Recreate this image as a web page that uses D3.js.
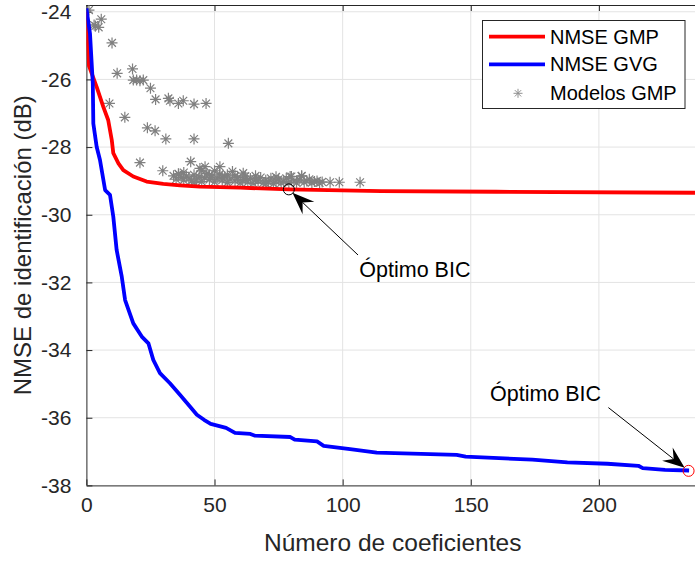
<!DOCTYPE html>
<html>
<head>
<meta charset="utf-8">
<script src="https://cdn.jsdelivr.net/npm/d3@7"></script>
<style>
  body { margin: 0; background: #fff; }
  svg text { font-family: "Liberation Sans", Arial, Helvetica, sans-serif; fill: #262626; }
</style>
</head>
<body>
<svg id="chart" width="695" height="561"></svg>
<script>
// Axis ticks
const xTicks = [0, 50, 100, 150, 200];
const yTicks = [-38, -36, -34, -32, -30, -28, -26, -24];

// NMSE GMP (best model per number of coefficients)
const gmpX = [0, 1, 4, 6.6, 8.5, 9.9, 10.5, 12.5, 14.4, 18.3, 23.5, 30, 36.5, 44.3, 60, 79, 115, 160, 237.5];
const gmpY = [-24.0, -25.6, -26.22, -26.81, -27.2, -27.79, -28.18, -28.48, -28.68, -28.87, -29.02, -29.09, -29.13, -29.17, -29.2, -29.25, -29.3, -29.32, -29.35];

// NMSE GVG
const gvgX = [0, 1.4, 2.5, 2.7, 4.0, 5.3, 7.3, 9.2, 10.5, 11.8, 13.8, 15.1, 18.3, 21.6, 24.2, 26.1, 28.7, 32.6, 36.5, 40.4, 43.1, 45.9, 48.5, 54.5, 58, 64, 65.8, 79.6, 81.3, 90, 92.6, 102.9, 113.3, 144.5, 148, 174, 187.7, 203.3, 215.4, 217.1, 225.8, 235.2];
const gvgY = [-23.9, -24.64, -26.12, -27.3, -27.99, -28.38, -29.27, -29.41, -30.06, -31.04, -31.83, -32.52, -33.21, -33.6, -33.8, -34.29, -34.68, -34.98, -35.32, -35.67, -35.91, -36.06, -36.18, -36.3, -36.45, -36.48, -36.53, -36.57, -36.65, -36.7, -36.83, -36.93, -37.03, -37.1, -37.15, -37.24, -37.32, -37.36, -37.42, -37.49, -37.54, -37.56];

// Evaluated GMP models (coefficients, NMSE)
const modelX = [1, 3, 3.5, 4.8, 5.8, 10, 12, 18, 18.3, 19.6, 20.9, 22.2, 25, 27, 32, 32.6, 35.9, 37.8, 42, 46.7, 9, 15, 23.8, 26.8, 31, 42, 55.4,
  20.9, 29.8, 40.7, 35.9, 44.3, 46.3, 52.1, 61.2,
  34, 35, 36, 37, 38, 39, 40, 41, 42, 43, 44, 45, 46, 47, 48, 49, 50, 51, 52, 53, 54, 55, 56, 57, 58, 59, 60, 61, 62, 63, 64, 65, 66, 67, 68, 69, 70, 71, 72, 73, 74, 75, 76, 77, 78, 79, 80, 81, 82, 83, 84, 85, 86, 87, 88, 89, 90, 91, 92,
  38, 42, 45, 48, 50, 53, 55, 58, 62, 66, 70, 74, 79.5, 84, 95.1, 98.7, 106.8];
const modelY = [-23.95, -24.39, -24.42, -24.46, -24.22, -24.92, -25.82, -25.69, -26.02, -26.02, -26.04, -26.02, -26.26, -26.59, -26.56, -26.63, -26.71, -26.63, -26.73, -26.71, -26.71, -27.12, -27.43, -27.52, -27.76, -27.76, -27.89,
  -28.46, -28.70, -28.43, -28.79, -28.63, -28.58, -28.58, -28.77,
  -28.85, -28.95, -28.8, -28.9, -28.98, -28.86, -28.92, -29.0, -28.82, -28.95, -28.88, -29.02, -28.9, -28.78, -28.96, -28.85, -29.03, -28.92, -28.8, -28.98, -28.88, -29.05, -28.95, -28.72, -29.0, -28.9, -29.06, -28.98, -28.86, -29.04, -28.93, -29.07, -28.97, -29.0, -28.9, -29.06, -28.98, -29.03, -28.92, -29.08, -29.0, -28.95, -29.06, -29.02, -28.92, -29.05, -28.87, -29.0, -29.06, -28.97, -28.86, -29.04, -29.0, -28.95, -29.05, -29.02, -29.0, -29.06, -29.03,
  -28.75, -29.05, -28.7, -28.82, -28.7, -28.9, -28.82, -28.85, -28.96, -28.85, -29.08, -28.88, -28.87, -28.85, -29.04, -29.04, -29.04];

// BIC optima and their annotations
const bicLabels = ["Óptimo BIC", "Óptimo BIC"];
const bicX = [79, 235];
const bicY = [-29.25, -37.57];
const bicTailX = [106, 203.7];
const bicTailY = [-31.19, -35.7];
const bicTextX = [106.5, 157.5];
const bicTextY = [-31.83, -35.52];

const legendLabels = ["NMSE GMP", "NMSE GVG", "Modelos GMP"];

const pL = 86.4, pR = 695, pT = 5, pB = 485.4;

const svg = d3.select("#chart");
const x = d3.scaleLinear().domain([0, 237.5]).range([pL, pR]);
const y = d3.scaleLinear().domain([-38, -23.8]).range([pB, pT]);

svg.append("defs").append("clipPath").attr("id", "plotclip")
  .append("rect").attr("x", pL).attr("y", pT).attr("width", pR - pL).attr("height", pB - pT);

// grid
const grid = svg.append("g");
grid.selectAll(".gx").data(xTicks.filter(d => d > 0)).enter().append("line")
  .attr("x1", d => x(d)).attr("x2", d => x(d)).attr("y1", pT).attr("y2", pB)
  .attr("stroke", "#e3e3e3").attr("stroke-width", 1);
grid.selectAll(".gy").data(yTicks.filter(d => d > -38)).enter().append("line")
  .attr("x1", pL).attr("x2", pR).attr("y1", d => y(d)).attr("y2", d => y(d))
  .attr("stroke", "#e3e3e3").attr("stroke-width", 1);

// axes (plain hyphen for negative labels)
const axisColor = "#262626";
const fmt = d => String(d);
const xAxis = d3.axisBottom(x).tickValues(xTicks).tickFormat(fmt).tickSizeInner(-6).tickSizeOuter(0).tickPadding(12);
const gx = svg.append("g").attr("transform", `translate(0,${pB})`).call(xAxis);
gx.select(".domain").attr("stroke", axisColor);
gx.selectAll(".tick line").attr("stroke", axisColor);
gx.selectAll(".tick text").attr("font-size", 21).attr("fill", axisColor).attr("font-family", "Liberation Sans, Arial, sans-serif");

const yAxis = d3.axisLeft(y).tickValues(yTicks).tickFormat(fmt).tickSizeInner(-6).tickSizeOuter(0).tickPadding(15);
const gy = svg.append("g").attr("transform", `translate(${pL},0)`).call(yAxis);
gy.select(".domain").attr("stroke", axisColor).attr("d", `M0.5,${pT}V${pB}`);
gy.selectAll(".tick line").attr("stroke", axisColor);
gy.selectAll(".tick text").attr("font-size", 21).attr("fill", axisColor).attr("font-family", "Liberation Sans, Arial, sans-serif");

// top border with inward ticks
svg.append("line").attr("x1", pL).attr("x2", pR).attr("y1", pT + 0.5).attr("y2", pT + 0.5).attr("stroke", axisColor);
svg.selectAll(".tt").data(xTicks).enter().append("line")
  .attr("x1", d => x(d) + 0.5).attr("x2", d => x(d) + 0.5).attr("y1", pT).attr("y2", pT + 6).attr("stroke", axisColor);

// axis labels
svg.append("text").attr("x", (pL + pR) / 2 + 2).attr("y", 551).attr("text-anchor", "middle")
  .attr("font-size", 24.5).text("Número de coeficientes");
svg.append("text").attr("transform", `translate(31,${(pT + pB) / 2}) rotate(-90)`).attr("text-anchor", "middle")
  .attr("font-size", 24).text("NMSE de identificación (dB)");

const plot = svg.append("g").attr("clip-path", "url(#plotclip)");

const line = d3.line().x(d => x(d[0])).y(d => y(d[1]));

// model scatter (asterisk markers)
function asterisk(r) {
  const a = r * 0.7071;
  return `M${-r},0L${r},0M0,${-r}L0,${r}M${-a},${-a}L${a},${a}M${-a},${a}L${a},${-a}`;
}
plot.selectAll(".model").data(d3.zip(modelX, modelY)).enter().append("path")
  .attr("transform", d => `translate(${x(d[0])},${y(d[1])})`)
  .attr("d", asterisk(5.5)).attr("stroke", "#808080").attr("stroke-width", 1.2).attr("fill", "none");

plot.append("path").datum(d3.zip(gmpX, gmpY)).attr("d", line)
  .attr("fill", "none").attr("stroke", "#ff0000").attr("stroke-width", 3.8).attr("stroke-linejoin", "round");
plot.append("path").datum(d3.zip(gvgX, gvgY)).attr("d", line)
  .attr("fill", "none").attr("stroke", "#0000ff").attr("stroke-width", 3.8).attr("stroke-linejoin", "round");

// BIC markers
const bicColors = ["#000000", "#ff0000"];
bicX.forEach((bx, i) => {
  plot.append("circle").attr("cx", x(bx)).attr("cy", y(bicY[i])).attr("r", 5.5)
    .attr("fill", "none").attr("stroke", bicColors[i]).attr("stroke-width", 1);
});

// annotation arrows
bicX.forEach((bx, i) => {
  const tx = x(bicTailX[i]), ty = y(bicTailY[i]);
  const cx = x(bx), cy = y(bicY[i]);
  const ang = Math.atan2(cy - ty, cx - tx);
  const hx = cx - Math.cos(ang) * 5, hy = cy - Math.sin(ang) * 5;
  const L = 22, Wd = 8.5, notch = 14;
  svg.append("line").attr("x1", tx).attr("y1", ty).attr("x2", hx - Math.cos(ang) * notch).attr("y2", hy - Math.sin(ang) * notch)
    .attr("stroke", "#000").attr("stroke-width", 1);
  const g = svg.append("g").attr("transform", `translate(${hx},${hy}) rotate(${ang * 180 / Math.PI})`);
  g.append("path").attr("d", `M0,0L${-L},${-Wd}L${-notch},0L${-L},${Wd}Z`).attr("fill", "#000");
  svg.append("text").attr("x", x(bicTextX[i])).attr("y", y(bicTextY[i])).attr("font-size", 21.5)
    .style("fill", "#000").text(bicLabels[i]);
});

// legend
const lg = svg.append("g");
lg.append("rect").attr("x", 482.5).attr("y", 20.5).attr("width", 202.5).attr("height", 88)
  .attr("fill", "#fff").attr("stroke", "#262626").attr("stroke-width", 1);
const legendY = [36.7, 64.3, 93.3];
lg.append("line").attr("x1", 489).attr("x2", 545).attr("y1", legendY[0]).attr("y2", legendY[0]).attr("stroke", "#ff0000").attr("stroke-width", 3.8);
lg.append("line").attr("x1", 489).attr("x2", 545).attr("y1", legendY[1]).attr("y2", legendY[1]).attr("stroke", "#0000ff").attr("stroke-width", 3.8);
lg.append("path").attr("transform", `translate(518,${legendY[2]})`).attr("d", asterisk(4.5))
  .attr("stroke", "#909090").attr("stroke-width", 1);
legendLabels.forEach((t, i) => {
  lg.append("text").attr("x", 550).attr("y", legendY[i] + 7).attr("font-size", 20).style("fill", "#000").text(t);
});
</script>
</body>
</html>
